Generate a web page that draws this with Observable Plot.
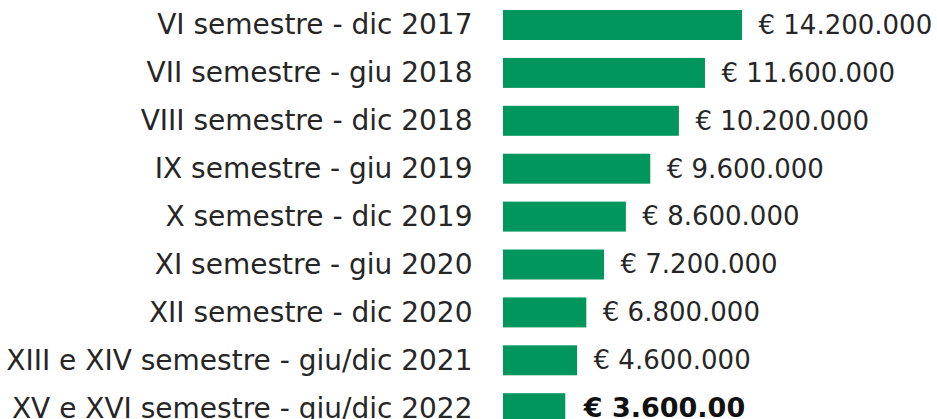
<!DOCTYPE html>
<html>
<head>
<meta charset="utf-8">
<script src="https://cdn.jsdelivr.net/npm/d3@7"></script>
<script src="https://cdn.jsdelivr.net/npm/@observablehq/plot@0.6"></script>
<style>
  html, body { margin: 0; padding: 0; background: #fff; }
  #chart { width: 937px; height: 419px; overflow: hidden; }
</style>
</head>
<body>
<div id="chart"></div>
<script>
const categories = [
  "VI semestre - dic 2017",
  "VII semestre - giu 2018",
  "VIII semestre - dic 2018",
  "IX semestre - giu 2019",
  "X semestre - dic 2019",
  "XI semestre - giu 2020",
  "XII semestre - dic 2020",
  "XIII e XIV semestre - giu/dic 2021",
  "XV e XVI semestre - giu/dic 2022"
];
const valueLabels = [
  "€ 14.200.000",
  "€ 11.600.000",
  "€ 10.200.000",
  "€ 9.600.000",
  "€ 8.600.000",
  "€ 7.200.000",
  "€ 6.800.000",
  "€ 4.600.000",
  "€ 3.600.00"
];
// bar lengths as drawn in the picture (millions of euro)
const barLengths = [14.2, 12.0, 10.45, 8.75, 7.3, 6.0, 4.95, 4.4, 3.7];
const boldFlags = [false, false, false, false, false, false, false, false, true];

const data = categories.map((c, i) => ({
  cat: c, len: barLengths[i], label: valueLabels[i], bold: boldFlags[i]
}));

const FONT = "DejaVu Sans, sans-serif";

const chart = Plot.plot({
  width: 937,
  height: 419,
  marginLeft: 0, marginRight: 0, marginTop: 0, marginBottom: 0,
  style: { background: "#fff", fontFamily: FONT },
  x: { domain: [0, 14.2], range: [503, 742], axis: null },
  y: { domain: categories, range: [10, 423.2], paddingInner: 0.374, paddingOuter: 0, round: false, axis: null },
  marks: [
    Plot.barX(data, { x: "len", y: "cat", fill: "#00965e" }),
    Plot.text(data, {
      x: 0, y: "cat", text: "cat", textAnchor: "end", dx: -31,
      fontSize: 28, fill: "#262626", fontFamily: FONT
    }),
    Plot.text(data.filter(d => !d.bold), {
      x: "len", y: "cat", text: "label", textAnchor: "start", dx: 16,
      fontSize: 26, fill: "#262626", fontFamily: FONT
    }),
    Plot.text(data.filter(d => d.bold), {
      x: "len", y: "cat", text: "label", textAnchor: "start", dx: 18,
      fontSize: 27, fontWeight: "bold", fill: "#111", fontFamily: FONT
    })
  ]
});
document.getElementById("chart").appendChild(chart);
</script>
</body>
</html>
